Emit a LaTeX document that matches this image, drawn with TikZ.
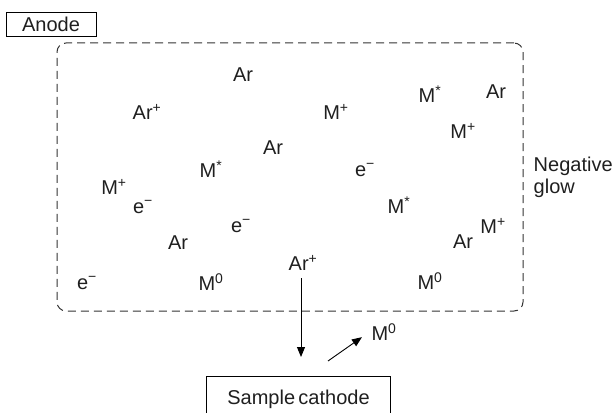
\documentclass[tikz,border=0pt]{standalone}
\usepackage{fontspec}
\setmainfont{Liberation Sans}
\usetikzlibrary{arrows.meta, positioning}

\begin{document}
\begin{tikzpicture}[
    x=1pt, y=-1pt,
    every node/.style={font=\fontsize{20}{22}\selectfont, text=black!88, inner sep=2pt},
    tag/.style={draw, line width=0.8pt, minimum width=90pt, minimum height=24pt, inner sep=0pt},
    glowbox/.style={draw=black!80, line width=1pt, dash pattern=on 8pt off 5pt,
                    rounded corners=9pt, minimum width=466pt, minimum height=268pt},
    cathode/.style={minimum width=183pt, minimum height=44pt, inner sep=0pt},
    arr/.style={-{Triangle[length=10pt, width=8pt]}, line width=0.9pt}
]
\useasboundingbox (0,0) rectangle (612,412);
% Anode label at top-left
\node[tag] (anode) at (51,24) {Anode};
% Negative glow region
\node[glowbox] (glow) at (290,177) {};
\node[anchor=west, align=left] (neg) at ([xshift=8pt]glow.east) {Negative\\glow};
% Particles inside the glow
\node (ar1) at (243,75)  {Ar};
\node (arp1) at (147,112) {Ar\textsuperscript{+}};
\node (mp1) at (336,112) {M\textsuperscript{+}};
\node (ms1) at (430,94)  {M\textsuperscript{*}};
\node (ar2) at (496,92)  {Ar};
\node (mp2) at (463,131) {M\textsuperscript{+}};
\node (ar3) at (273,148) {Ar};
\node (ms2) at (211,169) {M\textsuperscript{*}};
\node (el1) at (365,170) {e\textsuperscript{−}};
\node (mp3) at (114,187) {M\textsuperscript{+}};
\node (el2) at (143,207) {e\textsuperscript{−}};
\node (ms3) at (399,205) {M\textsuperscript{*}};
\node (el3) at (241,226) {e\textsuperscript{−}};
\node (ar4) at (178,243) {Ar};
\node (mp4) at (493,226) {M\textsuperscript{+}};
\node (ar5) at (463,242) {Ar};
\node (arp2) at (303,263) {Ar\textsuperscript{+}};
\node (el4) at (87,283)  {e\textsuperscript{−}};
\node (mz1) at (211,282) {M\textsuperscript{0}};
\node (mz2) at (430,281) {M\textsuperscript{0}};
% Sputtered atom leaving the cathode
\node (mz3) at (384,332) {M\textsuperscript{0}};
% Sample cathode, open at the bottom
\node[cathode] (cath) at (298.5,399) {Sample\,cathode};
\draw[line width=0.8pt] (cath.south west) |- (cath.north east) -- (cath.south east);
% Ion impact and sputtering arrows
\coordinate (hit) at (301,357);
\coordinate (spout) at (328,361);
\draw[arr, shorten <=5pt] (arp2.south -| hit) -- (hit);
\draw[arr, shorten >=9pt] (spout) -- (mz3.west);
\end{tikzpicture}
\end{document}
